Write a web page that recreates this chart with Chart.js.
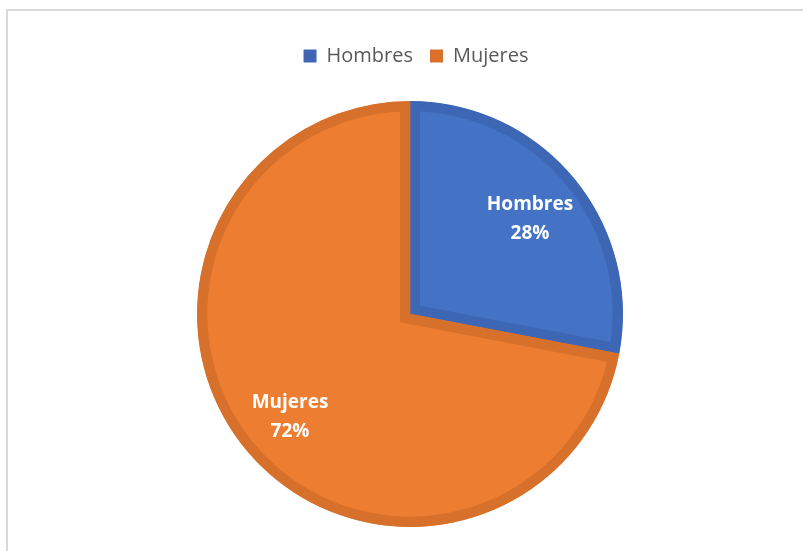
<!DOCTYPE html>
<html>
<head>
<meta charset="utf-8">
<script src="https://cdn.jsdelivr.net/npm/chart.js@4/dist/chart.umd.min.js"></script>
<style>
  html, body { margin: 0; padding: 0; background: #ffffff; }
  #wrap { width: 803px; height: 551px; position: relative; }
</style>
</head>
<body>
<div id="wrap"><canvas id="pie" width="803" height="551"></canvas></div>
<script>
// Distribución por sexo
const categories = ['Hombres', 'Mujeres'];
const shares = [28, 72];
const fillColors = ['#4472C4', '#ED7D31'];
const edgeColors = ['#3D67B5', '#D6702B'];

const LEGEND_HEIGHT = 72;
const LEGEND_SHIFT = 6;

// Light grey frame around the chart
const frame = {
  id: 'frame',
  beforeDraw(chart) {
    const ctx = chart.ctx;
    ctx.save();
    ctx.fillStyle = '#ffffff';
    ctx.fillRect(0, 0, chart.width, chart.height);
    ctx.strokeStyle = '#D9D9D9';
    ctx.lineWidth = 2;
    ctx.strokeRect(7, 10, chart.width + 50, chart.height + 50);
    ctx.restore();
  }
};

// Fixed legend band height and a small horizontal offset
const legendBand = {
  id: 'legendBand',
  beforeLayout(chart) {
    const lg = chart.legend;
    if (lg && !lg._bandPatched) {
      const fit = lg.fit;
      lg.fit = function () {
        fit.call(this);
        this.height = LEGEND_HEIGHT;
      };
      lg._bandPatched = true;
    }
  },
  afterLayout(chart) {
    const lg = chart.legend;
    if (lg) {
      lg.left += LEGEND_SHIFT;
      lg.right += LEGEND_SHIFT;
    }
  }
};

// Category name and percentage inside each slice
const sliceLabels = {
  id: 'sliceLabels',
  afterDatasetsDraw(chart) {
    const ctx = chart.ctx;
    const meta = chart.getDatasetMeta(0);
    const total = shares.reduce((a, b) => a + b, 0);
    ctx.save();
    ctx.fillStyle = '#ffffff';
    ctx.font = 'bold 19px "Open Sans"';
    ctx.textAlign = 'center';
    ctx.textBaseline = 'middle';
    meta.data.forEach((arc, i) => {
      const p = arc.getProps(['x', 'y', 'startAngle', 'endAngle', 'outerRadius'], true);
      const mid = (p.startAngle + p.endAngle) / 2;
      const r = p.outerRadius * 0.731;
      const cx = p.x + Math.cos(mid) * r;
      const cy = p.y + Math.sin(mid) * r;
      const pct = Math.round(shares[i] / total * 100) + '%';
      ctx.fillText(categories[i], cx, cy - 10.5);
      ctx.fillText(pct, cx, cy + 18.5);
    });
    ctx.restore();
  }
};

new Chart(document.getElementById('pie'), {
  type: 'pie',
  data: {
    labels: categories,
    datasets: [{
      data: shares,
      backgroundColor: fillColors,
      borderColor: edgeColors,
      borderWidth: 10,
      hoverBorderWidth: 10,
      borderAlign: 'inner',
      borderJoinStyle: 'miter'
    }]
  },
  options: {
    responsive: false,
    devicePixelRatio: 1,
    animation: false,
    events: [],
    layout: { padding: { top: 29, left: 17, right: 0, bottom: 24 } },
    plugins: {
      tooltip: { enabled: false },
      legend: {
        position: 'top',
        labels: {
          boxWidth: 13,
          boxHeight: 13,
          padding: 17,
          color: '#595959',
          font: { family: '"Open Sans"', size: 20 },
          generateLabels(chart) {
            return categories.map((name, i) => ({
              text: name,
              fillStyle: edgeColors[i],
              strokeStyle: edgeColors[i],
              lineWidth: 0,
              fontColor: '#595959',
              hidden: false,
              index: i
            }));
          }
        }
      }
    }
  },
  plugins: [frame, legendBand, sliceLabels]
});
</script>
</body>
</html>
